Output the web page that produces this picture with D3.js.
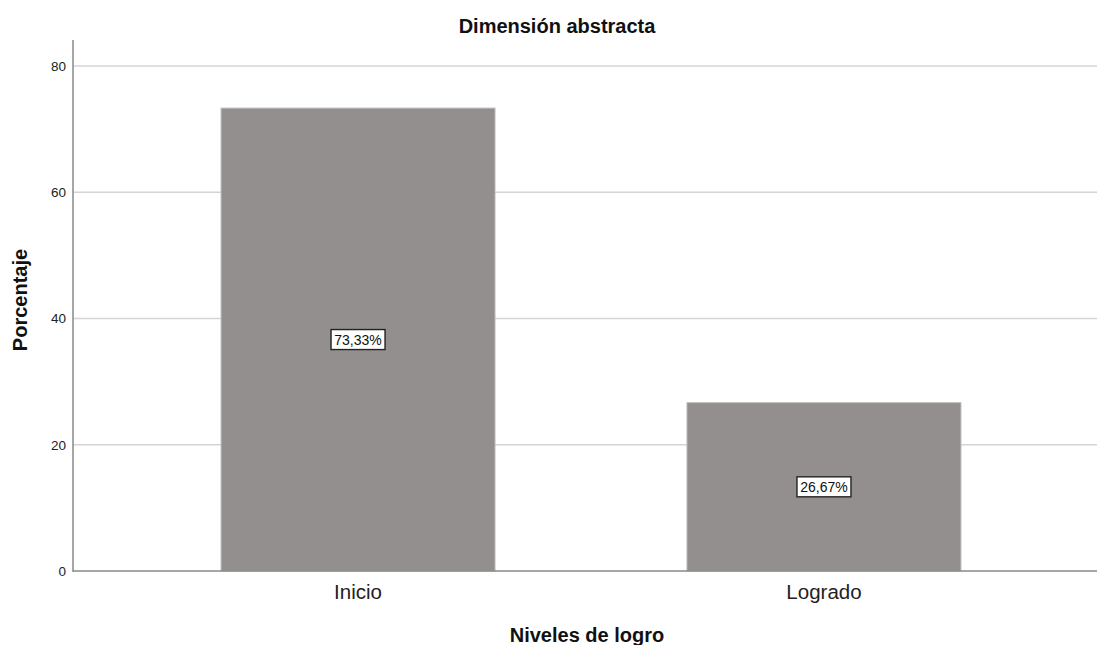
<!DOCTYPE html>
<html><head><meta charset="utf-8">
<script src="https://cdn.jsdelivr.net/npm/d3@7"></script>
<style>body{margin:0;background:#fff}svg{display:block}text{font-family:Arial,"Liberation Sans",sans-serif}</style>
</head><body>
<svg id="c" width="1097" height="645"></svg>
<script>
const categories = ["Inicio", "Logrado"];
const values = [73.33, 26.67];
const valueLabels = ["73,33%", "26,67%"];
const yTicks = [0, 20, 40, 60, 80];
const title = "Dimensión abstracta";
const xTitle = "Niveles de logro";
const yTitle = "Porcentaje";

(function () {
const svg = d3.select("#c");
const mLeft = 73, mRight = 1097, mTop = 40, mBottom = 571;
const y = d3.scaleLinear().domain([0, 80]).range([mBottom, 66]);
const x = d3.scaleBand().domain(categories).range([85, 1097]).paddingInner(0.412).paddingOuter(0.292);

// gridlines
svg.append("g").selectAll("line").data(yTicks.filter(d => d > 0)).join("line")
  .attr("x1", mLeft).attr("x2", mRight).attr("y1", d => y(d)).attr("y2", d => y(d))
  .attr("stroke", "#d4d4d4").attr("stroke-width", 1.3);

// bars
svg.append("g").selectAll("rect").data(values).join("rect")
  .attr("x", (d, i) => x(categories[i])).attr("width", x.bandwidth())
  .attr("y", d => y(d)).attr("height", d => mBottom - y(d))
  .attr("fill", "#938f8e").attr("stroke", "#bdbbba").attr("stroke-width", 1);

// value labels
const lg = svg.append("g").selectAll("g").data(values).join("g")
  .attr("transform", (d, i) => `translate(${x(categories[i]) + x.bandwidth() / 2},${(y(d) + mBottom) / 2})`);
lg.append("rect").attr("x", -27).attr("y", -10).attr("width", 54).attr("height", 20)
  .attr("fill", "#fff").attr("stroke", "#222").attr("stroke-width", 1.4);
lg.append("text").attr("text-anchor", "middle").attr("dy", "0.36em")
  .attr("font-size", 14).attr("fill", "#111").text((d, i) => valueLabels[i]);

// y axis
const yAxis = d3.axisLeft(y).tickValues(yTicks).tickSize(0).tickPadding(7);
const ya = svg.append("g").attr("transform", `translate(${mLeft},0)`).call(yAxis);
ya.select(".domain").remove();
ya.selectAll("text").attr("font-size", 13.5).attr("fill", "#222").style("font-family", "Arial, 'Liberation Sans', sans-serif");
svg.append("line").attr("x1", mLeft).attr("x2", mLeft).attr("y1", mTop).attr("y2", mBottom + 1)
  .attr("stroke", "#888").attr("stroke-width", 1.5);

// x axis
svg.append("line").attr("x1", mLeft).attr("x2", mRight).attr("y1", mBottom).attr("y2", mBottom)
  .attr("stroke", "#888").attr("stroke-width", 1.5);
const xAxis = d3.axisBottom(x).tickSize(0).tickPadding(13);
const xa = svg.append("g").attr("transform", `translate(0,${mBottom})`).call(xAxis);
xa.select(".domain").remove();
xa.selectAll("text").attr("font-size", 20.5).attr("fill", "#222").style("font-family", "Arial, 'Liberation Sans', sans-serif");

// titles
svg.append("text").attr("x", 557).attr("y", 33).attr("text-anchor", "middle")
  .attr("font-size", 20).attr("font-weight", "bold").attr("fill", "#111").text(title);
svg.append("text").attr("x", 587).attr("y", 642).attr("text-anchor", "middle")
  .attr("font-size", 20).attr("font-weight", "bold").attr("fill", "#111").text(xTitle);
svg.append("text").attr("transform", `translate(27,300) rotate(-90)`).attr("text-anchor", "middle")
  .attr("font-size", 20).attr("font-weight", "bold").attr("fill", "#111").text(yTitle);
})();
</script>
</body></html>
